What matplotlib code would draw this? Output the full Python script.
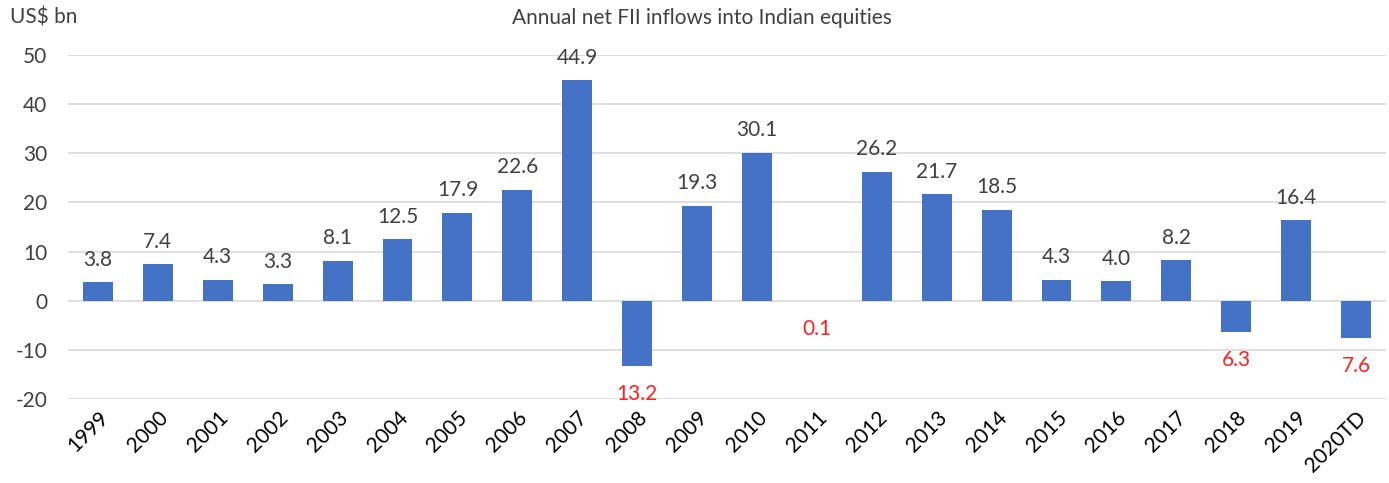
import matplotlib
matplotlib.use("Agg")
import matplotlib.pyplot as plt

years = ["1999", "2000", "2001", "2002", "2003", "2004", "2005", "2006", "2007", "2008",
         "2009", "2010", "2011", "2012", "2013", "2014", "2015", "2016", "2017", "2018",
         "2019", "2020TD"]
inflows = [3.8, 7.4, 4.3, 3.3, 8.1, 12.5, 17.9, 22.6, 44.9, -13.2,
           19.3, 30.1, -0.1, 26.2, 21.7, 18.5, 4.3, 4.0, 8.2, -6.3,
           16.4, -7.6]
yticks = [-20, -10, 0, 10, 20, 30, 40, 50]

plt.rcParams['font.family'] = ['Lato', 'DejaVu Sans']
text_color = '#404040'

fig = plt.figure(figsize=(13.89, 4.83), dpi=100)
ax = fig.add_axes([68/1389, 1-399/483, (1386-68)/1389, (399-55)/483])

x = list(range(len(years)))
ax.bar(x, inflows, width=0.5, color='#4472C4', zorder=3)

for xi, v in zip(x, inflows):
    if v >= 0:
        ax.annotate(f"{abs(v):.1f}", (xi, v), xytext=(0, 9), textcoords='offset points',
                    ha='center', va='bottom', fontsize=15, color=text_color)
    else:
        ax.annotate(f"{abs(v):.1f}", (xi, v), xytext=(0, -13), textcoords='offset points',
                    ha='center', va='top', fontsize=15, color='#FF2020')

ax.set_xlim(-0.5, len(years) - 0.5)
ax.set_ylim(-20, 50)
ax.set_yticks(yticks)
ax.set_yticklabels([str(t) for t in yticks], fontsize=15, color=text_color)
ax.set_xticks(x)
ax.set_xticklabels(years, rotation=45, ha='right', rotation_mode='anchor',
                   fontsize=15, color='black')
ax.tick_params(axis='both', length=0)
ax.tick_params(axis='y', pad=15)
ax.tick_params(axis='x', pad=6)
ax.grid(axis='y', color='#D9D9D9', linewidth=1.2, zorder=0)
ax.set_axisbelow(True)
for s in ax.spines.values():
    s.set_visible(False)

fig.text(702/1389, 1-18/483, "Annual net FII inflows into Indian equities",
         ha='center', va='center', fontsize=15, color=text_color)
fig.text(10/1389, 1-18/483, "US$ bn", ha='left', va='center', fontsize=15,
         color=text_color)

fig.savefig("out.png", dpi=100)
